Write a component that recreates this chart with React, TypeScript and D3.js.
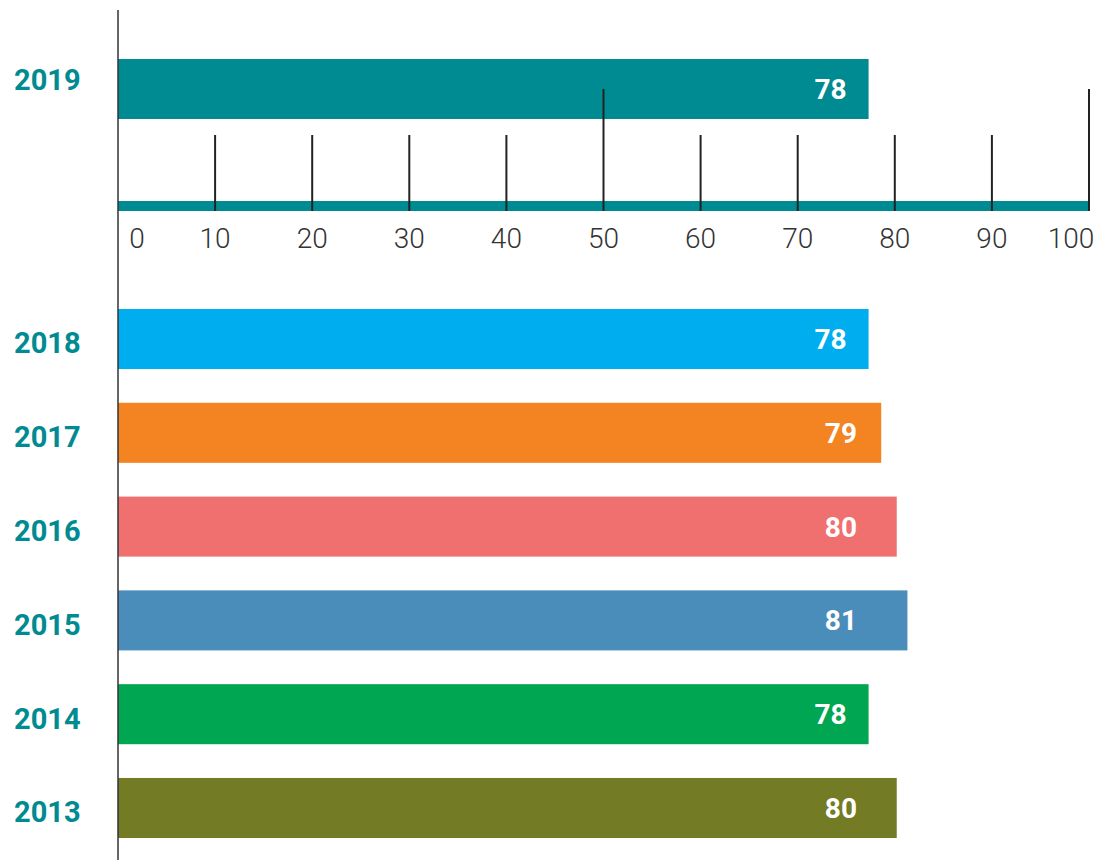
import { useEffect, useRef } from "react";
import * as d3 from "d3";

// data
const topYear = "2019";
const topValue = 77.3;
const topLabel = "78";
const topColor = "#008A91";

const years = ["2018", "2017", "2016", "2015", "2014", "2013"];
const values = [77.3, 78.6, 80.2, 81.3, 77.3, 80.2];
const valueLabels = ["78", "79", "80", "81", "78", "80"];
const colors = ["#00AEEF", "#F38421", "#F07070", "#4B8DBA", "#00A651", "#737B24"];

const tickValues = [0, 10, 20, 30, 40, 50, 60, 70, 80, 90, 100];
const majorTicks = [50, 100];

const FONT = "Roboto, 'DejaVu Sans', sans-serif";

export default function App() {
  const ref = useRef<SVGSVGElement>(null);

  useEffect(() => {
    document.body.style.margin = "0";
    if (!ref.current) return;
    const svg = d3.select(ref.current);
    svg.selectAll("*").remove();

    const W = 1104;
    const H = 861;
    svg.attr("width", W).attr("height", H).attr("viewBox", `0 0 ${W} ${H}`);

    const x = d3.scaleLinear().domain([0, 100]).range([118, 1089]);

    // lower bars band
    const y = d3
      .scaleBand<string>()
      .domain(years)
      .range([309, 838])
      .paddingInner(0.36)
      .paddingOuter(0);

    // top bar (2019)
    const topY = 59;
    const topH = 60;
    svg
      .append("rect")
      .attr("x", x(0))
      .attr("y", topY)
      .attr("width", x(topValue) - x(0))
      .attr("height", topH)
      .attr("fill", topColor);

    svg
      .append("text")
      .attr("x", x(topValue) - 22)
      .attr("y", topY + topH / 2)
      .attr("dy", "0.36em")
      .attr("text-anchor", "end")
      .attr("font-family", FONT)
      .attr("font-weight", 700)
      .attr("font-size", 28)
      .attr("fill", "#fff")
      .text(topLabel);

    svg
      .append("text")
      .attr("x", 14)
      .attr("y", topY + topH / 2 - 9)
      .attr("dy", "0.36em")
      .attr("font-family", FONT)
      .attr("font-weight", 700)
      .attr("font-size", 29)
      .attr("fill", topColor)
      .text(topYear);

    // scale axis: teal baseline + ticks
    const baseY = 201;
    svg
      .append("rect")
      .attr("x", x(0))
      .attr("y", baseY)
      .attr("width", x(100) - x(0))
      .attr("height", 10)
      .attr("fill", topColor);

    svg
      .selectAll("line.tick")
      .data(tickValues.filter((t) => t > 0))
      .join("line")
      .attr("class", "tick")
      .attr("x1", (d) => x(d))
      .attr("x2", (d) => x(d))
      .attr("y1", (d) => (majorTicks.includes(d) ? 89 : 135))
      .attr("y2", 211)
      .attr("stroke", "#222")
      .attr("stroke-width", 2);

    svg
      .selectAll("text.tickLabel")
      .data(tickValues)
      .join("text")
      .attr("class", "tickLabel")
      .attr("x", (d) => x(d) + (d === 0 ? 19 : d === 100 ? -18 : 0))
      .attr("y", 248)
      .attr("text-anchor", "middle")
      .attr("font-family", FONT)
      .attr("font-weight", 300)
      .attr("font-size", 28)
      .attr("fill", "#333")
      .text((d) => String(d));

    // lower bars
    const bw = y.bandwidth();
    years.forEach((yr, i) => {
      const by = y(yr) ?? 0;
      svg
        .append("rect")
        .attr("x", x(0))
        .attr("y", by)
        .attr("width", x(values[i]) - x(0))
        .attr("height", bw)
        .attr("fill", colors[i]);

      svg
        .append("text")
        .attr("x", Math.min(x(values[i]) - 22, 857))
        .attr("y", by + bw / 2)
        .attr("dy", "0.36em")
        .attr("text-anchor", "end")
        .attr("font-family", FONT)
        .attr("font-weight", 700)
        .attr("font-size", 28)
        .attr("fill", "#fff")
        .text(valueLabels[i]);

      svg
        .append("text")
        .attr("x", 14)
        .attr("y", by + bw / 2 + 4)
        .attr("dy", "0.36em")
        .attr("font-family", FONT)
        .attr("font-weight", 700)
        .attr("font-size", 29)
        .attr("fill", topColor)
        .text(yr);
    });

    // vertical axis line
    svg
      .append("line")
      .attr("x1", x(0))
      .attr("x2", x(0))
      .attr("y1", 10)
      .attr("y2", 860)
      .attr("stroke", "#333")
      .attr("stroke-width", 1.5);
  }, []);

  return <svg ref={ref} style={{ display: "block" }} />;
}
